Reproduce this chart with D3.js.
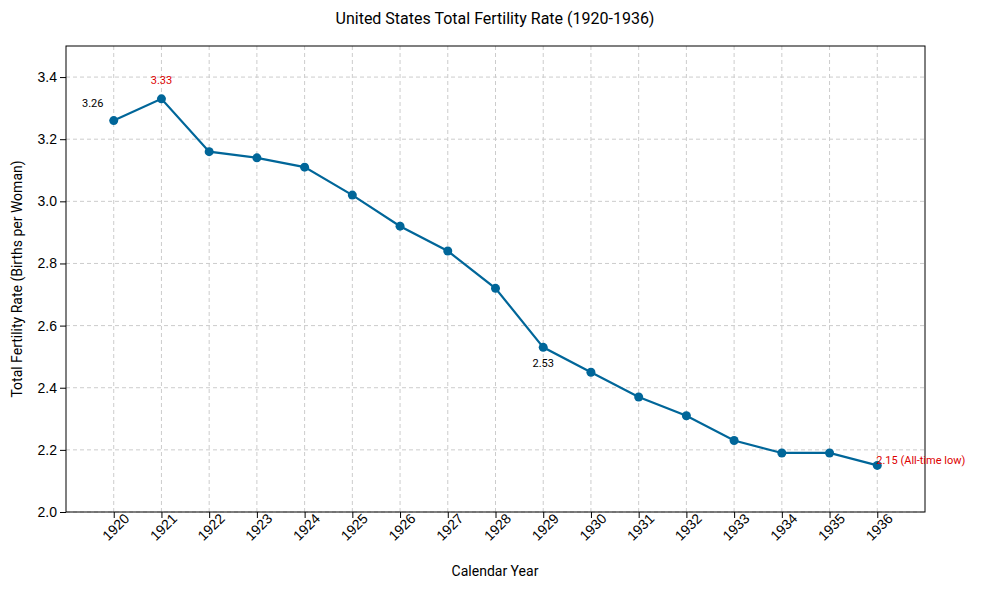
<!DOCTYPE html><html><head><meta charset="utf-8">
<script src="https://cdn.jsdelivr.net/npm/d3@7"></script>
<style>body{margin:0;background:#fff;font-family:Roboto,"Open Sans",sans-serif}</style></head><body>
<svg id="c" width="985" height="590"></svg>
<script>
const years=[1920,1921,1922,1923,1924,1925,1926,1927,1928,1929,1930,1931,1932,1933,1934,1935,1936];
const tfr=[3.26,3.33,3.16,3.14,3.11,3.02,2.92,2.84,2.72,2.53,2.45,2.37,2.31,2.23,2.19,2.19,2.15];
const yTicks=[2.0,2.2,2.4,2.6,2.8,3.0,3.2,3.4];
const notes=[{y:1920,t:"3.26",c:"#000",dx:-21,dy:-14,a:"middle"},{y:1921,t:"3.33",c:"#d00",dx:0,dy:-15,a:"middle"},{y:1929,t:"2.53",c:"#000",dx:0,dy:20,a:"middle"},{y:1936,t:"2.15 (All-time low)",c:"#d00",dx:-1,dy:-1,a:"start"}];
const svg=d3.select("#c"),L=66,R=925,T=46,B=512;
const x=d3.scaleLinear().domain([1919,1937]).range([L,R]);
const y=d3.scaleLinear().domain([2.0,3.5]).range([B,T]);
const g=svg.append("g");
g.selectAll(".gx").data(years).join("line").attr("x1",d=>x(d)).attr("x2",d=>x(d)).attr("y1",T).attr("y2",B).attr("stroke","#ccc").attr("stroke-dasharray","4,3");
g.selectAll(".gy").data(yTicks).join("line").attr("y1",d=>y(d)).attr("y2",d=>y(d)).attr("x1",L).attr("x2",R).attr("stroke","#ccc").attr("stroke-dasharray","4,3");
svg.append("rect").attr("x",L).attr("y",T).attr("width",R-L).attr("height",B-T).attr("fill","none").attr("stroke","#000");
const ax=svg.append("g").attr("transform",`translate(0,${B})`).call(d3.axisBottom(x).tickValues(years).tickFormat(d3.format("d")).tickSizeOuter(0));
ax.select(".domain").remove();
ax.selectAll("text").attr("font-size",14).attr("transform","rotate(-45)").attr("text-anchor","end").attr("dx","0").attr("dy","0.9em").attr("x",6).attr("y",4).attr("fill","#000");
const ay=svg.append("g").attr("transform",`translate(${L},0)`).call(d3.axisLeft(y).tickValues(yTicks).tickFormat(d3.format(".1f")).tickSizeOuter(0));
ay.select(".domain").remove();ay.selectAll("text").attr("font-size",14).attr("fill","#000");
svg.append("path").datum(years.map((d,i)=>[d,tfr[i]])).attr("fill","none").attr("stroke","#006699").attr("stroke-width",2.2).attr("d",d3.line().x(d=>x(d[0])).y(d=>y(d[1])));
svg.selectAll(".pt").data(years).join("circle").attr("cx",d=>x(d)).attr("cy",(d,i)=>y(tfr[i])).attr("r",4.5).attr("fill","#006699");
svg.selectAll(".nt").data(notes).join("text").attr("x",d=>x(d.y)+d.dx).attr("y",d=>y(tfr[years.indexOf(d.y)])+d.dy).attr("fill",d=>d.c).attr("text-anchor",d=>d.a).attr("font-size",11).text(d=>d.t);
svg.append("text").attr("x",495).attr("y",24).attr("text-anchor","middle").attr("font-size",16).text("United States Total Fertility Rate (1920-1936)");
svg.append("text").attr("x",495).attr("y",576).attr("text-anchor","middle").attr("font-size",14).text("Calendar Year");
svg.append("text").attr("transform","translate(22,279) rotate(-90)").attr("text-anchor","middle").attr("font-size",14).text("Total Fertility Rate (Births per Woman)");
</script></body></html>
